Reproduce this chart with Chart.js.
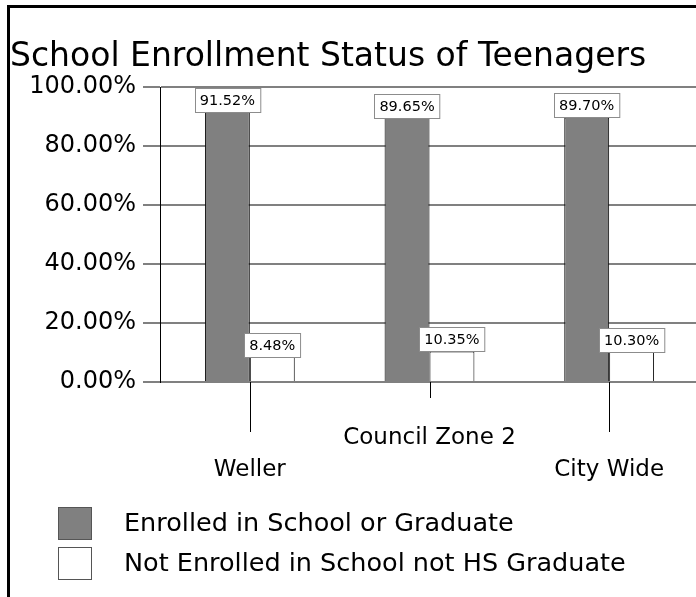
<!DOCTYPE html>
<html><head><meta charset="utf-8">
<script src="https://cdn.jsdelivr.net/npm/chart.js@4.4.0/dist/chart.umd.min.js"></script>
<style>html,body{margin:0;padding:0;overflow:hidden;background:#fff}#wrap{position:relative;width:696px;height:597px;overflow:hidden}canvas{display:block}</style>
</head><body><div id="wrap"><canvas id="c" width="704" height="597"></canvas></div>
<script>
const chartTitle = 'School Enrollment Status of Teenagers';
const categories = ['Weller', 'Council Zone 2', 'City Wide'];
const seriesNames = ['Enrolled in School or Graduate', 'Not Enrolled in School not HS Graduate'];
const enrolled = [91.52, 89.65, 89.70];
const notEnrolled = [8.48, 10.35, 10.30];
const yTicks = [0, 20, 40, 60, 80, 100];

const FONT = "'DejaVu Sans', sans-serif";

const framePlugin = {
  id: 'frame',
  beforeDraw(chart) {
    const ctx = chart.ctx;
    ctx.save();
    ctx.fillStyle = '#fff';
    ctx.fillRect(0, 0, chart.width, chart.height);
    ctx.fillStyle = '#000';
    ctx.fillRect(7, 5, 3, chart.height);
    ctx.fillRect(7, 5, chart.width, 3);
    ctx.restore();
  }
};

const tickLinePlugin = {
  id: 'tickLines',
  afterDraw(chart) {
    const xs = chart.scales.x, ctx = chart.ctx, b = chart.chartArea.bottom;
    ctx.save();
    ctx.strokeStyle = '#000';
    ctx.lineWidth = 1;
    categories.forEach((c, i) => {
      const x = Math.round(xs.getPixelForTick(i)) + 0.5;
      const len = i % 2 === 0 ? 50 : 16;
      ctx.beginPath();
      ctx.moveTo(x, b);
      ctx.lineTo(x, b + len);
      ctx.stroke();
    });
    ctx.restore();
  }
};

const valueLabelPlugin = {
  id: 'valueLabels',
  afterDatasetsDraw(chart) {
    const ctx = chart.ctx;
    ctx.save();
    ctx.font = '14.5px ' + FONT;
    ctx.textAlign = 'center';
    ctx.textBaseline = 'middle';
    chart.data.datasets.forEach((ds, di) => {
      const meta = chart.getDatasetMeta(di);
      meta.data.forEach((el, i) => {
        const txt = ds.data[i].toFixed(2) + '%';
        const w = ctx.measureText(txt).width + 10;
        const h = 24;
        const x = Math.round(el.x - w / 2) + 0.5;
        const y = Math.round(el.y - h) + 0.5;
        ctx.fillStyle = '#fff';
        ctx.fillRect(x, y, w, h);
        ctx.strokeStyle = '#8c8c8c';
        ctx.lineWidth = 1;
        ctx.strokeRect(x, y, w, h);
        ctx.fillStyle = '#000';
        ctx.fillText(txt, el.x, y + h / 2 + 1);
      });
    });
    ctx.restore();
  }
};

const legendPlugin = {
  id: 'customLegend',
  afterDraw(chart) {
    const ctx = chart.ctx;
    ctx.save();
    ctx.font = '25.5px ' + FONT;
    ctx.textBaseline = 'middle';
    ctx.textAlign = 'left';
    chart.data.datasets.forEach((ds, i) => {
      const top = 507 + i * 40;
      ctx.fillStyle = ds.backgroundColor;
      ctx.fillRect(58.5, top + 0.5, 33, 32);
      ctx.strokeStyle = '#555';
      ctx.lineWidth = 1;
      ctx.strokeRect(58.5, top + 0.5, 33, 32);
      ctx.fillStyle = '#000';
      ctx.fillText(ds.label, 124, top + 17);
    });
    ctx.restore();
  }
};

new Chart(document.getElementById('c'), {
  type: 'bar',
  data: {
    labels: categories,
    datasets: [
      { label: seriesNames[0], data: enrolled, backgroundColor: '#808080', borderColor: '#000', borderWidth: 1,
        categoryPercentage: 0.5, barPercentage: 1 },
      { label: seriesNames[1], data: notEnrolled, backgroundColor: '#ffffff', borderColor: '#000', borderWidth: 1,
        categoryPercentage: 0.5, barPercentage: 1 }
    ]
  },
  options: {
    responsive: false,
    animation: false,
    layout: { padding: { left: 10, right: 5, top: 0, bottom: 0 } },
    plugins: {
      legend: { display: false },
      tooltip: { enabled: false },
      title: {
        display: true, text: chartTitle, align: 'start', color: '#000',
        font: { family: FONT, size: 33, weight: 'normal', lineHeight: 1.2 },
        padding: { top: 38, bottom: 9.4 }
      }
    },
    scales: {
      x: {
        grid: { display: false },
        border: { display: false },
        afterFit(s) { s.height = 215; },
        ticks: {
          autoSkip: false, maxRotation: 0, padding: 32, color: '#000',
          font: { family: FONT, size: 23, lineHeight: 32 / 23 },
          callback: (v, i) => i % 2 === 0 ? ['', categories[i]] : [categories[i]]
        }
      },
      y: {
        min: 0, max: 100,
        afterFit(s) { s.width = 150; },
        afterBuildTicks(s) { s.ticks = yTicks.map(v => ({ value: v })); },
        grid: { color: '#808080', lineWidth: 2, tickLength: 17 },
        border: { display: true, color: '#000', width: 1 },
        ticks: {
          padding: 7, color: '#000',
          font: { family: FONT, size: 24 },
          callback: v => v.toFixed(2) + '%'
        }
      }
    }
  },
  plugins: [framePlugin, tickLinePlugin, valueLabelPlugin, legendPlugin]
});
</script></body></html>
